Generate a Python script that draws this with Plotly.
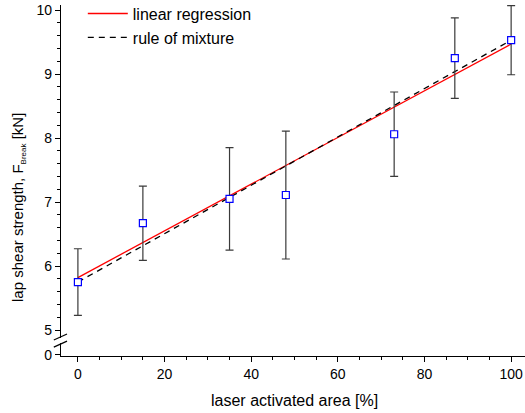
import plotly.graph_objects as go

# data
area = [0, 15, 35, 48, 73, 87, 100]
strength = [5.75, 6.67, 7.05, 7.11, 8.06, 9.25, 9.53]
err = [0.52, 0.58, 0.80, 1.00, 0.66, 0.63, 0.54]
reg_x = [0, 100]
reg_y = [5.82, 9.47]
mix_x = [0, 100]
mix_y = [5.75, 9.53]

ZERO_POS = 4.61  # where "0" sits on the broken axis
y_ticks = [ZERO_POS, 5, 6, 7, 8, 9, 10]
y_ticktext = ["0", "5", "6", "7", "8", "9", "10"]
y_minor = [round(5 + 0.2 * i, 1) for i in range(1, 26) if round(5 + 0.2 * i, 1) % 1 != 0]

FONT = "Liberation Sans, Arial, sans-serif"

fig = go.Figure()
fig.add_trace(go.Scatter(x=reg_x, y=reg_y, mode="lines", name="linear regression",
                         line=dict(color="#ff0000", width=1.3)))
fig.add_trace(go.Scatter(x=mix_x, y=mix_y, mode="lines", name="rule of mixture",
                         line=dict(color="black", width=1.3, dash="6px,5px")))
fig.add_trace(go.Scatter(x=area, y=strength, mode="markers", showlegend=False,
                         marker=dict(symbol="square", size=7, color="white",
                                     line=dict(color="#0000ff", width=1.2)),
                         error_y=dict(type="data", array=err, visible=True,
                                      color="#3a3a3a", thickness=1.2, width=4)))

# axis break marks
fig.add_shape(type="rect", xref="paper", yref="y", x0=-0.005, x1=0.005,
              y0=4.795, y1=4.875, line=dict(width=0), fillcolor="white", layer="above")
for y0 in (4.89, 4.78):
    fig.add_shape(type="line", xref="paper", yref="y", x0=-0.0155, x1=0.013,
                  y0=y0 - 0.047, y1=y0 + 0.047, line=dict(color="black", width=1.2),
                  layer="above")

# axis titles as annotations for precise placement
fig.add_annotation(text="lap shear strength, F<sub><span style='font-size:8px'>Break</span></sub> [kN]",
                   textangle=-90,
                   xref="paper", yref="paper", x=-0.0927, y=(356 - 207) / 351,
                   xanchor="center", yanchor="middle", showarrow=False,
                   font=dict(size=15))
fig.add_annotation(text="laser activated area [%]",
                   xref="paper", yref="paper", x=(294 - 61) / 464, y=(356 - 400) / 351,
                   xanchor="center", yanchor="middle", showarrow=False,
                   font=dict(size=16))

fig.update_layout(
    width=525, height=413,
    margin=dict(l=61, r=0, t=5, b=57, autoexpand=False),
    paper_bgcolor="white", plot_bgcolor="white",
    font=dict(family=FONT, size=14, color="black"),
    legend=dict(x=0.047, y=1.024, xanchor="left", yanchor="top",
                bgcolor="rgba(0,0,0,0)", font=dict(size=16), tracegroupgap=0,
                itemwidth=40),
    xaxis=dict(range=[-3.9, 103.2], tickvals=[0, 20, 40, 60, 80, 100],
               showline=True, linecolor="black", linewidth=1.3, mirror=False,
               ticks="outside", ticklen=5, tickwidth=1.2, tickcolor="black",
               showgrid=False, zeroline=False, automargin=False,
               minor=dict(tickvals=[5, 10, 15, 25, 30, 35, 45, 50, 55, 65, 70, 75, 85, 90, 95],
                          ticks="outside", ticklen=3, tickwidth=1, tickcolor="black")),
    yaxis=dict(range=[4.594, 10.08], tickvals=y_ticks, ticktext=y_ticktext,
               showline=True, linecolor="black", linewidth=1.3,
               ticks="outside", ticklen=5, tickwidth=1.2, tickcolor="black",
               showgrid=False, zeroline=False, automargin=False,
               minor=dict(tickvals=y_minor, ticks="outside", ticklen=3, tickwidth=1,
                          tickcolor="black")),
)

fig.write_html("out.html")
